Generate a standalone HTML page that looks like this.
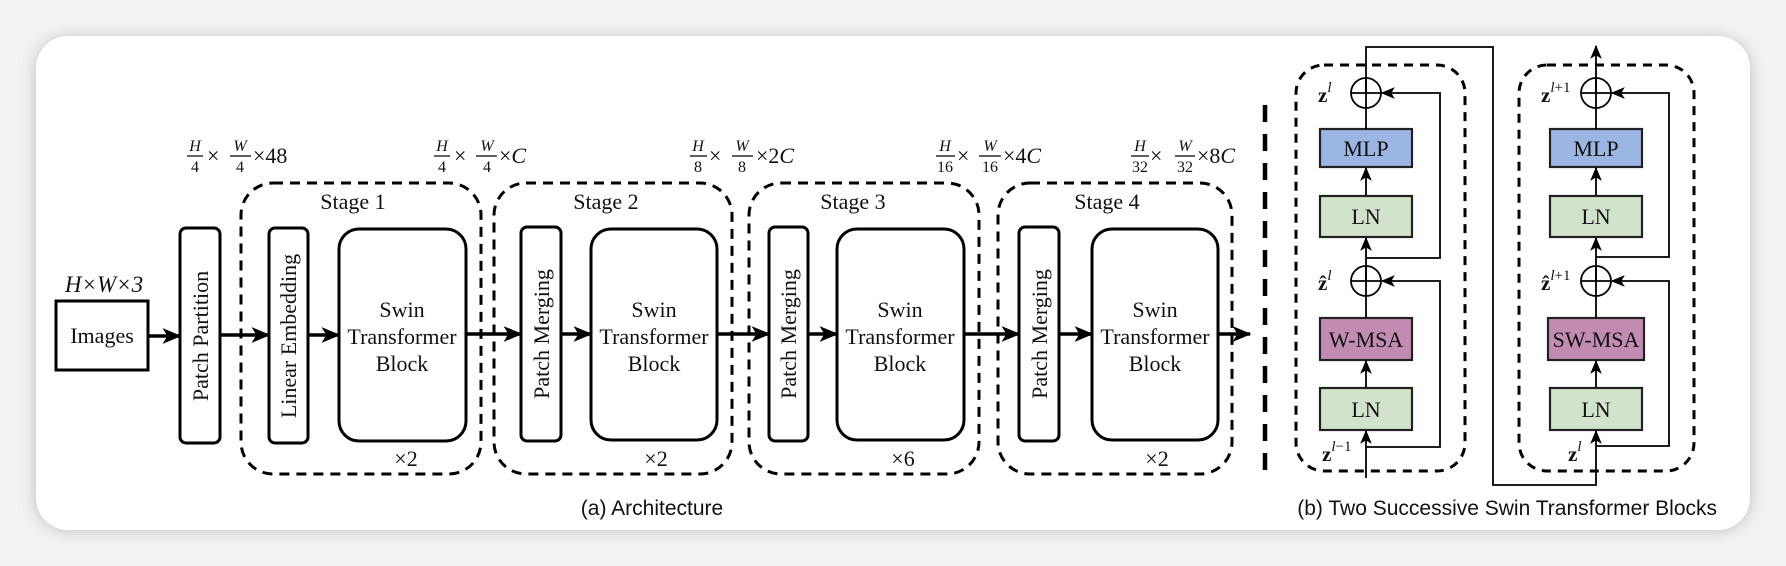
<!DOCTYPE html>
<html><head><meta charset="utf-8"><style>
html,body{margin:0;padding:0;background:#f3f3f3;width:1786px;height:566px;overflow:hidden}
svg{display:block}
.s{font-family:"Liberation Serif",serif;fill:#111}
.i{font-style:italic}
</style></head><body>
<svg width="1786" height="566" viewBox="0 0 1786 566" xmlns="http://www.w3.org/2000/svg">
<defs>
<filter id="sh" x="-5%" y="-10%" width="110%" height="120%"><feGaussianBlur stdDeviation="8"/></filter>
<marker id="a" viewBox="0 0 12 10" refX="11" refY="5" markerWidth="14" markerHeight="12" markerUnits="userSpaceOnUse" orient="auto"><path d="M0,0 L12,5 L0,10 L3,5 Z" fill="#000"/></marker>
<marker id="b" viewBox="0 0 12 10" refX="11" refY="5" markerWidth="19" markerHeight="16" markerUnits="userSpaceOnUse" orient="auto"><path d="M0,0 L12,5 L0,10 L3,5 Z" fill="#000"/></marker>
</defs>
<rect x="36" y="38" width="1714" height="492" rx="32" fill="#bbb" filter="url(#sh)"/>
<rect x="36" y="36" width="1714" height="494" rx="32" fill="#fff"/>

<g fill="none" stroke="#000" stroke-width="3">
<rect x="56" y="301" width="92" height="69"/>
<g stroke-dasharray="10,7">
<rect x="241" y="183" width="240" height="291" rx="32"/>
<rect x="494" y="183" width="238" height="291" rx="32"/>
<rect x="749" y="183" width="230" height="291" rx="32"/>
<rect x="998" y="183" width="234" height="291" rx="32"/>
</g>
<rect x="180" y="228" width="40" height="215" rx="6"/>
<rect x="269" y="228" width="39" height="215" rx="6"/>
<rect x="339" y="229" width="127" height="212" rx="20"/>
<rect x="521" y="227" width="40" height="214" rx="6"/>
<rect x="591" y="229" width="126" height="211" rx="20"/>
<rect x="769" y="227" width="39" height="214" rx="6"/>
<rect x="837" y="229" width="127" height="211" rx="20"/>
<rect x="1019" y="227" width="40" height="214" rx="6"/>
<rect x="1092" y="229" width="126" height="211" rx="20"/>
</g>
<g stroke="#000" stroke-width="3.5" fill="none">
<line x1="148" y1="336" x2="180" y2="336" marker-end="url(#b)"/>
<line x1="220" y1="335" x2="269" y2="335" marker-end="url(#b)"/>
<line x1="308" y1="335" x2="339" y2="335" marker-end="url(#b)"/>
<line x1="466" y1="334" x2="521" y2="334" marker-end="url(#b)"/>
<line x1="561" y1="334" x2="591" y2="334" marker-end="url(#b)"/>
<line x1="717" y1="334" x2="769" y2="334" marker-end="url(#b)"/>
<line x1="808" y1="334" x2="837" y2="334" marker-end="url(#b)"/>
<line x1="964" y1="334" x2="1019" y2="334" marker-end="url(#b)"/>
<line x1="1059" y1="334" x2="1092" y2="334" marker-end="url(#b)"/>
<line x1="1218" y1="334" x2="1250" y2="334" marker-end="url(#b)"/>
</g>

<g class="s" font-size="22" text-anchor="middle">
<text x="102" y="343">Images</text>
<text x="104" y="292" class="i" font-size="23">H×W×3</text>
<text transform="translate(208,336) rotate(-90)">Patch Partition</text>
<text transform="translate(296,336) rotate(-90)">Linear Embedding</text>
<text transform="translate(549,334) rotate(-90)">Patch Merging</text>
<text transform="translate(796,334) rotate(-90)">Patch Merging</text>
<text transform="translate(1047,334) rotate(-90)">Patch Merging</text>
<g font-size="22">
<text x="353" y="209">Stage 1</text><text x="606" y="209">Stage 2</text>
<text x="853" y="209">Stage 3</text><text x="1107" y="209">Stage 4</text>
<text x="406" y="466">×2</text><text x="656" y="466">×2</text>
<text x="903" y="466">×6</text><text x="1157" y="466">×2</text>
</g>
<g>
<text x="402" y="317">Swin</text><text x="402" y="344">Transformer</text><text x="402" y="371">Block</text>
<text x="654" y="317">Swin</text><text x="654" y="344">Transformer</text><text x="654" y="371">Block</text>
<text x="900" y="317">Swin</text><text x="900" y="344">Transformer</text><text x="900" y="371">Block</text>
<text x="1155" y="317">Swin</text><text x="1155" y="344">Transformer</text><text x="1155" y="371">Block</text>
</g>
</g>

<g class="s" font-size="16" text-anchor="middle" stroke="none">
<g><text x="195" y="151" class="i">H</text><text x="195" y="172">4</text><text x="240" y="151" class="i">W</text><text x="240" y="172">4</text></g>
<g><text x="442" y="151" class="i">H</text><text x="442" y="172">4</text><text x="487" y="151" class="i">W</text><text x="487" y="172">4</text></g>
<g><text x="698" y="151" class="i">H</text><text x="698" y="172">8</text><text x="742" y="151" class="i">W</text><text x="742" y="172">8</text></g>
<g><text x="945" y="151" class="i">H</text><text x="945" y="172">16</text><text x="990" y="151" class="i">W</text><text x="990" y="172">16</text></g>
<g><text x="1140" y="151" class="i">H</text><text x="1140" y="172">32</text><text x="1185" y="151" class="i">W</text><text x="1185" y="172">32</text></g>
</g>
<g stroke="#000" stroke-width="1.2">
<line x1="187" y1="156" x2="203" y2="156"/><line x1="230" y1="156" x2="251" y2="156"/>
<line x1="434" y1="156" x2="450" y2="156"/><line x1="476" y1="156" x2="497" y2="156"/>
<line x1="690" y1="156" x2="707" y2="156"/><line x1="732" y1="156" x2="753" y2="156"/>
<line x1="936" y1="156" x2="955" y2="156"/><line x1="979" y1="156" x2="1001" y2="156"/>
<line x1="1131" y1="156" x2="1149" y2="156"/><line x1="1175" y1="156" x2="1195" y2="156"/>
</g>
<g class="s" font-size="22">
<text x="207" y="163">×</text><text x="253" y="163">×48</text>
<text x="454" y="163">×</text><text x="499" y="163">×<tspan class="i">C</tspan></text>
<text x="709" y="163">×</text><text x="756" y="163">×2<tspan class="i">C</tspan></text>
<text x="957" y="163">×</text><text x="1003" y="163">×4<tspan class="i">C</tspan></text>
<text x="1150" y="163">×</text><text x="1197" y="163">×8<tspan class="i">C</tspan></text>
</g>

<line x1="1265" y1="105" x2="1265" y2="475" stroke="#000" stroke-width="4.5" stroke-dasharray="17,12"/>

<g fill="none" stroke="#000" stroke-width="3" stroke-dasharray="9,7">
<rect x="1296" y="65" width="169" height="406" rx="28"/>
<rect x="1519" y="65" width="175" height="406" rx="28"/>
</g>
<g stroke="#222" stroke-width="2.2">
<rect x="1320" y="129" width="92" height="38" fill="#9bb6e2"/>
<rect x="1320" y="196" width="92" height="41" fill="#d1e3cd"/>
<rect x="1320" y="318" width="92" height="42" fill="#c28cb2"/>
<rect x="1320" y="388" width="92" height="42" fill="#d1e3cd"/>
<rect x="1550" y="129" width="92" height="38" fill="#9bb6e2"/>
<rect x="1550" y="196" width="92" height="41" fill="#d1e3cd"/>
<rect x="1548" y="318" width="96" height="42" fill="#c28cb2"/>
<rect x="1550" y="388" width="92" height="42" fill="#d1e3cd"/>
</g>
<g fill="none" stroke="#000" stroke-width="1.8">
<circle cx="1366" cy="93" r="15"/><line x1="1351" y1="93" x2="1381" y2="93"/>
<circle cx="1366" cy="281" r="15"/><line x1="1351" y1="281" x2="1381" y2="281"/>
<circle cx="1596" cy="93" r="15"/><line x1="1581" y1="93" x2="1611" y2="93"/>
<circle cx="1596" cy="281" r="15"/><line x1="1581" y1="281" x2="1611" y2="281"/>
<line x1="1366" y1="478" x2="1366" y2="431" marker-end="url(#a)"/>
<line x1="1366" y1="388" x2="1366" y2="361" marker-end="url(#a)"/>
<line x1="1366" y1="318" x2="1366" y2="266"/>
<line x1="1366" y1="281" x2="1366" y2="238" marker-end="url(#a)"/>
<line x1="1366" y1="196" x2="1366" y2="168" marker-end="url(#a)"/>
<line x1="1366" y1="129" x2="1366" y2="78"/>
<polyline points="1366,447 1440,447 1440,281 1382,281" marker-end="url(#a)"/>
<polyline points="1366,258 1440,258 1440,93 1382,93" marker-end="url(#a)"/>
<polyline points="1366,93 1366,47 1493,47 1493,485 1596,485 1596,431" marker-end="url(#a)"/>
<line x1="1596" y1="388" x2="1596" y2="361" marker-end="url(#a)"/>
<line x1="1596" y1="318" x2="1596" y2="266"/>
<line x1="1596" y1="281" x2="1596" y2="238" marker-end="url(#a)"/>
<line x1="1596" y1="196" x2="1596" y2="168" marker-end="url(#a)"/>
<line x1="1596" y1="129" x2="1596" y2="78"/>
<line x1="1596" y1="93" x2="1596" y2="46" marker-end="url(#a)"/>
<polyline points="1596,446 1669,446 1669,281 1612,281" marker-end="url(#a)"/>
<polyline points="1596,257 1669,257 1669,93 1612,93" marker-end="url(#a)"/>
</g>
<g class="s" font-size="22" text-anchor="middle">
<text x="1366" y="156">MLP</text><text x="1366" y="224">LN</text><text x="1366" y="347">W-MSA</text><text x="1366" y="417">LN</text>
<text x="1596" y="156">MLP</text><text x="1596" y="224">LN</text><text x="1596" y="347">SW-MSA</text><text x="1596" y="417">LN</text>
</g>
<g class="s" font-size="21" font-weight="bold">
<text x="1318" y="102">z<tspan font-size="15" font-weight="normal" font-style="italic" dy="-10">l</tspan></text>
<text x="1318" y="290">ẑ<tspan font-size="15" font-weight="normal" font-style="italic" dy="-10">l</tspan></text>
<text x="1322" y="461">z<tspan font-size="15" font-weight="normal" font-style="italic" dy="-10">l</tspan><tspan font-size="15" font-weight="normal">−1</tspan></text>
<text x="1541" y="102">z<tspan font-size="15" font-weight="normal" font-style="italic" dy="-10">l</tspan><tspan font-size="15" font-weight="normal">+1</tspan></text>
<text x="1541" y="290">ẑ<tspan font-size="15" font-weight="normal" font-style="italic" dy="-10">l</tspan><tspan font-size="15" font-weight="normal">+1</tspan></text>
<text x="1568" y="461">z<tspan font-size="15" font-weight="normal" font-style="italic" dy="-10">l</tspan></text>
</g>

<g font-family="Liberation Sans, sans-serif" font-size="21" fill="#111">
<text x="652" y="515" text-anchor="middle">(a) Architecture</text>
<text x="1717" y="515" text-anchor="end">(b) Two Successive Swin Transformer Blocks</text>
</g>
</svg>
</body></html>
